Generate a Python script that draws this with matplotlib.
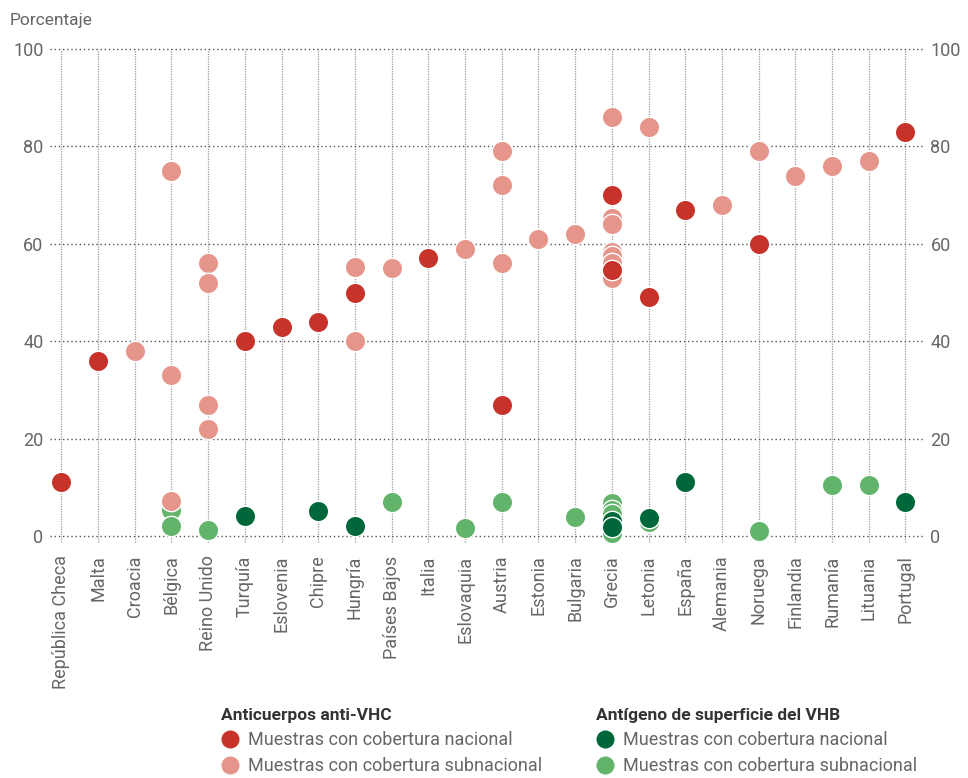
import matplotlib.pyplot as plt
from matplotlib.lines import Line2D

plt.rcParams['font.family'] = ['Roboto', 'DejaVu Sans']

# Países (eje x)
paises = ['República Checa', 'Malta', 'Croacia', 'Bélgica', 'Reino Unido', 'Turquía',
          'Eslovenia', 'Chipre', 'Hungría', 'Países Bajos', 'Italia', 'Eslovaquia',
          'Austria', 'Estonia', 'Bulgaria', 'Grecia', 'Letonia', 'España', 'Alemania',
          'Noruega', 'Finlandia', 'Rumanía', 'Lituania', 'Portugal']

# Anticuerpos anti-VHC, cobertura nacional
vhc_nac_pais = ['República Checa', 'Malta', 'Turquía', 'Eslovenia', 'Chipre', 'Hungría',
                'Italia', 'Austria', 'Grecia', 'Grecia', 'Letonia', 'España', 'Noruega',
                'Portugal']
vhc_nac_val = [11, 36, 40, 43, 44, 50, 57, 27, 70, 54.6, 49, 67, 60, 83]

# Anticuerpos anti-VHC, cobertura subnacional
vhc_sub_pais = ['Croacia', 'Bélgica', 'Bélgica', 'Bélgica', 'Reino Unido', 'Reino Unido',
                'Reino Unido', 'Reino Unido', 'Hungría', 'Hungría', 'Países Bajos',
                'Eslovaquia', 'Austria', 'Austria', 'Austria', 'Estonia', 'Bulgaria',
                'Grecia', 'Grecia', 'Grecia', 'Grecia', 'Grecia', 'Grecia', 'Grecia',
                'Letonia', 'Alemania', 'Noruega', 'Finlandia', 'Rumanía', 'Lituania']
vhc_sub_val = [38, 75, 33, 7.2, 56, 52, 27, 22, 55.2, 40, 55, 59, 79, 72, 56, 61, 62,
               86, 65.3, 64, 58.4, 57.4, 56, 53, 84, 68, 79, 74, 76, 77]

# Antígeno de superficie del VHB, cobertura nacional
vhb_nac_pais = ['Turquía', 'Chipre', 'Hungría', 'Grecia', 'Grecia', 'Letonia', 'España',
                'Portugal']
vhb_nac_val = [4.1, 5.1, 2, 3.1, 1.8, 3.7, 11, 7]

# Antígeno de superficie del VHB, cobertura subnacional
vhb_sub_pais = ['Bélgica', 'Bélgica', 'Reino Unido', 'Países Bajos', 'Eslovaquia',
                'Austria', 'Bulgaria', 'Grecia', 'Grecia', 'Grecia', 'Grecia', 'Letonia',
                'Noruega', 'Rumanía', 'Lituania']
vhb_sub_val = [5.3, 2, 1.2, 6.9, 1.7, 6.9, 4, 6.7, 5.3, 4.6, 0.7, 2.8, 1, 10.5, 10.5]

col_rojo = '#C7322A'
col_rosa = '#E6958B'
col_verde_osc = '#00673A'
col_verde = '#62B46B'
gris = '#666666'

pos = {p: i for i, p in enumerate(paises)}

fig = plt.figure(figsize=(9.68, 7.78), dpi=100)
ax = fig.add_axes([0.052, 0.311, 0.902, 0.626])

# Rejilla
for i in range(len(paises)):
    ax.plot([i, i], [-1.2, 100], color='#9a9a9a', linestyle=(0, (1, 1)), linewidth=0.9,
            zorder=0, clip_on=False)
for y in range(0, 101, 20):
    ax.axhline(y, color='#555555', linestyle=(0, (1, 2)), linewidth=1.0, zorder=1,
               clip_on=False)

# Puntos
ms = 215
series = [
    (vhb_sub_pais, vhb_sub_val, col_verde),
    (vhb_nac_pais, vhb_nac_val, col_verde_osc),
    (vhc_sub_pais, vhc_sub_val, col_rosa),
    (vhc_nac_pais, vhc_nac_val, col_rojo),
]
for z, (ps, vs, c) in enumerate(series):
    ax.scatter([pos[p] for p in ps], vs, s=ms, color=c, edgecolors='white',
               linewidths=1.0, zorder=3 + z, clip_on=False)

ax.set_xlim(-0.3, 23.49)
ax.set_ylim(0, 100)
for s in ax.spines.values():
    s.set_visible(False)

ax.set_xticks(range(len(paises)))
ax.set_xticklabels(paises, rotation=90, fontsize=13, color=gris)
ax.set_yticks(range(0, 101, 20))
ax.tick_params(axis='y', length=0, labelsize=13, labelcolor=gris, pad=5,
               labelright=True)
ax.tick_params(axis='x', length=0, pad=14)

fig.text(0.01, 0.974, 'Porcentaje', fontsize=12.5, color=gris, va='center', ha='left')

# Leyendas
def hand(c):
    return Line2D([], [], marker='o', linestyle='none', markersize=14,
                  markerfacecolor=c, markeredgecolor='white')

etiquetas = ['Muestras con cobertura nacional', 'Muestras con cobertura subnacional']
leg_kw = dict(loc='upper left', frameon=False, fontsize=13, alignment='left',
              handletextpad=0.5, labelspacing=0.45, borderpad=0, borderaxespad=0,
              handlelength=1.0, labelcolor=gris,
              title_fontproperties={'weight': 'bold', 'size': 12.5})
leg1 = fig.legend([hand(col_rojo), hand(col_rosa)], etiquetas,
                  title='Anticuerpos anti-VHC', bbox_to_anchor=(0.228, 0.09), **leg_kw)
leg2 = fig.legend([hand(col_verde_osc), hand(col_verde)], etiquetas,
                  title='Antígeno de superficie del VHB', bbox_to_anchor=(0.616, 0.09),
                  **leg_kw)
for lg in (leg1, leg2):
    lg.get_title().set_color('#333333')

fig.savefig('out.png', dpi=100)
